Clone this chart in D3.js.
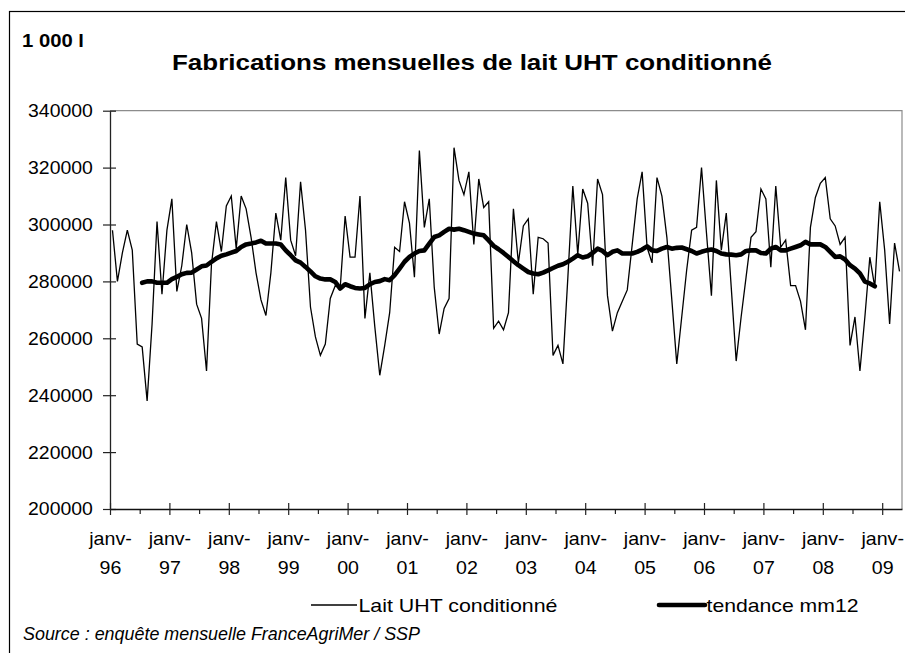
<!DOCTYPE html>
<html lang="fr">
<head>
<meta charset="UTF-8">
<title>Fabrications mensuelles de lait UHT conditionné</title>
<script src="https://cdn.jsdelivr.net/npm/d3@7"></script>
<style>
  body { margin: 0; background: #fff; }
  svg { display: block; }
  text { font-family: Arial, "Liberation Sans", sans-serif; fill: #000; }
</style>
</head>
<body>
<div id="chart"></div>
<script>
// monthly production, 1 000 l, janv-96 .. avr-09
const lait = [
  298000, 280000, 290000, 298000, 291000, 258000, 257000, 238000, 265000, 301000, 275500, 298000,
  309000, 276500, 285500, 300000, 290000, 272000, 267000, 248500, 286000, 301000, 290500, 306500,
  310000, 291500, 310000, 305500, 295500, 283000, 273500, 268000, 283000, 304000, 294500, 316500,
  294500, 289000, 315000, 298000, 271000, 260500, 254000, 258000, 274000, 278500, 277500, 303000,
  288500, 288500, 310000, 267000, 283000, 264000, 247000, 257500, 269000, 292000, 290500, 308000,
  300500, 281500, 326000, 299000, 309000, 278000, 261500, 270500, 274000, 327000, 315500, 310500,
  318500, 293000, 316000, 306000, 308000, 263500, 266000, 263000, 269000, 305500, 286500, 299500,
  302000, 275500, 295500, 295000, 293500, 254000, 257500, 251000, 281500, 313500, 289500, 312500,
  307500, 285500, 316000, 310500, 275000, 262500, 269000, 273000, 277000, 293000, 309000, 318500,
  292000, 286500, 316500, 310000, 295500, 273500, 251000, 267500, 284000, 298000, 299000, 320000,
  297000, 275000, 315500, 291000, 304000, 278000, 252000, 267500, 281500, 295500, 297500, 312500,
  309000, 285000, 313500, 292000, 294500, 278500, 278500, 273000, 263000, 299000, 309500, 314500,
  316500, 302000, 299500, 293000, 295500, 257500, 267500, 248500, 267500, 288500, 278000, 308000,
  291000, 265000, 293500, 283500
];

// centred 12-month moving average (null where not drawn)
const tendance = [
  null, null, null, null, null, null, 279500, 280000, 280000, 279500, 279500, 279500,
  280800, 281600, 282500, 283000, 283100, 284200, 285300, 285600, 286900, 288100, 289000, 289500,
  290100, 290700, 292100, 293000, 293300, 293700, 294300, 293300, 293300, 293300, 293000, 290900,
  289200, 287400, 286600, 285100, 283500, 281800, 281000, 280700, 280700, 279800, 277500, 279000,
  278300, 277700, 277500, 277700, 279000, 279800, 280100, 280800, 280400, 282200, 284500, 286900,
  288600, 289800, 290700, 290900, 293300, 295600, 296200, 297400, 298500, 298200, 298500, 298000,
  297400, 296800, 296500, 296200, 294400, 292500, 291300, 290000, 288600, 287100, 285700, 284500,
  283300, 282800, 282500, 283100, 283900, 284700, 285500, 286000, 286900, 288000, 289200, 288400,
  288800, 290000, 291500, 290700, 289200, 290400, 290900, 289800, 289800, 289800, 290400, 291200,
  292300, 290900, 290700, 291500, 292100, 291500, 291800, 291900, 291300, 290700, 289800, 290400,
  290900, 291200, 290700, 289800, 289500, 289400, 289200, 289500, 290700, 290900, 290900, 290000,
  289800, 291500, 292100, 290900, 290900, 291500, 292100, 292700, 293900, 293000, 293000, 293000,
  292100, 290400, 288600, 288800, 287700, 285700, 284500, 282800, 279900, 279300, 278300, null,
  null, null, null, null
];

const yTicks = [200000, 220000, 240000, 260000, 280000, 300000, 320000, 340000];
const yearLabels = ["96", "97", "98", "99", "00", "01", "02", "03", "04", "05", "06", "07", "08", "09"];
const months = d3.timeMonth.range(new Date(1996, 0, 1), new Date(2009, 4, 1));

const W = 905, H = 653;
const plot = { left: 110, right: 902, top: 110.7, bottom: 509 };

const svg = d3.select("#chart").append("svg")
  .attr("width", W)
  .attr("height", H);

// outer frame (right and bottom edges fall outside the picture)
svg.append("rect")
  .attr("x", 9.5).attr("y", 11.5)
  .attr("width", 905).attr("height", 660)
  .attr("fill", "none")
  .attr("stroke", "#000")
  .attr("stroke-width", 1.2);

const x = d3.scaleLinear().domain([0, months.length]).range([plot.left, plot.right]);
const y = d3.scaleLinear().domain([200000, 340000]).range([plot.bottom, plot.top]);

// plot area border (top / right in grey)
svg.append("path")
  .attr("d", `M${plot.left},${plot.top}H${plot.right}V${plot.bottom}`)
  .attr("fill", "none")
  .attr("stroke", "#8c8c8c")
  .attr("stroke-width", 1.2);

// y axis
const yAxis = svg.append("g")
  .attr("transform", `translate(${plot.left},0)`)
  .call(d3.axisLeft(y).tickValues(yTicks).tickFormat(d3.format("d")).tickSizeOuter(0));
yAxis.select(".domain").attr("stroke", "#222").attr("stroke-width", 1.3);
yAxis.selectAll(".tick line").attr("x1", 6).attr("x2", -7).attr("stroke", "#222").attr("stroke-width", 1.2);
yAxis.selectAll(".tick text")
  .attr("x", -15.5)
  .attr("dy", "0.34em")
  .attr("transform", "scale(1.11,1)")
  .style("font-size", "17.5px");

// x axis: minor ticks every 6 months
const xMinor = svg.append("g")
  .attr("transform", `translate(0,${plot.bottom})`)
  .call(d3.axisBottom(x).tickValues(d3.range(6, months.length, 12)).tickFormat("").tickSizeOuter(0));
xMinor.select(".domain").remove();
xMinor.selectAll(".tick line").attr("y2", 5).attr("stroke", "#222").attr("stroke-width", 1.2);

// x axis: major ticks every january, two-line labels
const xMajor = svg.append("g")
  .attr("transform", `translate(0,${plot.bottom})`)
  .call(d3.axisBottom(x).tickValues(d3.range(0, months.length, 12))
    .tickFormat((d, i) => yearLabels[i]).tickSizeOuter(0));
xMajor.select(".domain").attr("stroke", "#111").attr("stroke-width", 1.3);
xMajor.selectAll(".tick line").attr("y1", -6).attr("y2", 6).attr("stroke", "#222").attr("stroke-width", 1.2);
xMajor.selectAll(".tick text").each(function () {
  const t = d3.select(this);
  const yr = t.text();
  t.text(null).attr("y", 0).attr("dy", null)
    .attr("transform", "scale(1.06,1)")
    .style("font-size", "18.5px");
  t.append("tspan").attr("x", 0).attr("y", 36).text("janv-");
  t.append("tspan").attr("x", 0).attr("y", 65).text(yr);
});

// series
const line = d3.line()
  .defined(d => d != null)
  .x((d, i) => x(i + 0.5))
  .y(d => y(d));

svg.append("path")
  .datum(lait)
  .attr("d", line)
  .attr("fill", "none")
  .attr("stroke", "#000")
  .attr("stroke-width", 1.3)
  .attr("stroke-linejoin", "miter");

svg.append("path")
  .datum(tendance)
  .attr("d", line)
  .attr("fill", "none")
  .attr("stroke", "#000")
  .attr("stroke-width", 4.6)
  .attr("stroke-linejoin", "round")
  .attr("stroke-linecap", "round");

// titles
svg.append("text")
  .attr("x", 22).attr("y", 46.5)
  .attr("textLength", 62).attr("lengthAdjust", "spacingAndGlyphs")
  .style("font-size", "18px").style("font-weight", "bold")
  .text("1 000 l");

svg.append("text")
  .attr("x", 172).attr("y", 69.5)
  .attr("textLength", 600).attr("lengthAdjust", "spacingAndGlyphs")
  .style("font-size", "21.5px").style("font-weight", "bold")
  .text("Fabrications mensuelles de lait UHT conditionné");

// legend
const legend = [
  { name: "Lait UHT conditionné", width: 1.3, x0: 311, x1: 357, len: 199 },
  { name: "tendance mm12", width: 4.6, x0: 659, x1: 705, len: 152 }
];
const lg = svg.append("g").selectAll("g").data(legend).join("g");
lg.append("line")
  .attr("x1", d => d.x0).attr("x2", d => d.x1)
  .attr("y1", 605).attr("y2", 605)
  .attr("stroke", "#000")
  .attr("stroke-width", d => d.width)
  .attr("stroke-linecap", d => d.width > 2 ? "round" : "butt");
lg.append("text")
  .attr("x", d => d.x1 + 1.5).attr("y", 612)
  .attr("textLength", d => d.len).attr("lengthAdjust", "spacingAndGlyphs")
  .style("font-size", "18.5px")
  .text(d => d.name);

// source
svg.append("text")
  .attr("x", 23).attr("y", 640)
  .attr("textLength", 397).attr("lengthAdjust", "spacingAndGlyphs")
  .style("font-size", "17.5px").style("font-style", "italic")
  .text("Source : enquête mensuelle FranceAgriMer / SSP");
</script>
</body>
</html>
